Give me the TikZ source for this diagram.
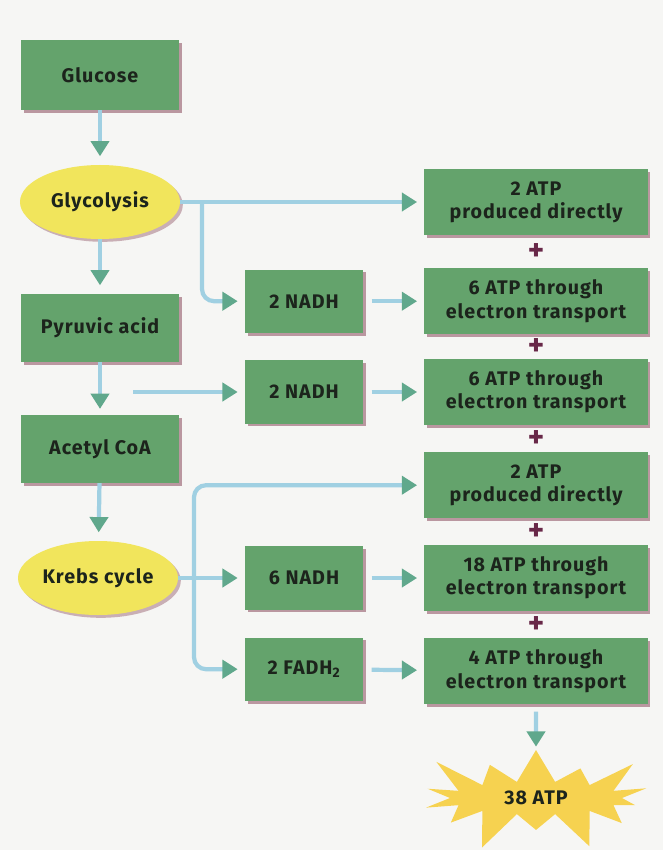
\documentclass[tikz,border=0pt]{standalone}
\usepackage{fontspec}
\setmainfont{Fira Sans}
\usepackage{xcolor}
\usetikzlibrary{arrows.meta,calc,shapes.geometric,shapes.symbols,shadows}
\definecolor{boxgreen}{RGB}{100,163,108}
\definecolor{cellyellow}{RGB}{241,229,92}
\definecolor{burstgold}{RGB}{246,210,80}
\definecolor{pipeblue}{RGB}{160,208,226}
\definecolor{tipteal}{RGB}{96,168,140}
\definecolor{inkdark}{RGB}{28,36,28}
\definecolor{plusplum}{RGB}{104,40,72}
\definecolor{shadowrose}{RGB}{172,128,140}
\definecolor{pagebg}{RGB}{246,246,244}
\newcommand{\labelfont}{\fontsize{14}{16.5}\selectfont\bfseries\addfontfeatures{LetterSpace=5}}

\begin{document}
\begin{tikzpicture}[
  stepbox/.style={rectangle,fill=boxgreen,text=inkdark,align=center,
    font=\labelfont,minimum height=1.65cm,
    drop shadow={shadow xshift=2pt,shadow yshift=-2pt,fill=shadowrose,opacity=0.8}},
  cell/.style={ellipse,fill=cellyellow,text=inkdark,minimum width=4cm,minimum height=1.85cm,
    inner sep=0pt,font=\labelfont,
    drop shadow={shadow xshift=2pt,shadow yshift=-2pt,fill=shadowrose,opacity=0.6}},
  plus/.style={text=plusplum,font=\fontsize{22}{22}\selectfont\bfseries,inner sep=0pt},
  burst/.style={starburst,starburst points=14,starburst point height=1.1cm,
    fill=burstgold,text=inkdark,minimum width=6.5cm,minimum height=2.4cm,
    font=\labelfont},
  flow/.style={line width=3pt,draw=pipeblue,shorten >=3pt,
    -{Triangle[length=0.38cm,width=0.45cm,color=tipteal]}}
]
\fill[pagebg] (0,0) rectangle (16.575,-21.25);
\useasboundingbox (0,0) rectangle (16.575,-21.25);

% left column
\node[stepbox,minimum width=3.95cm,minimum height=1.75cm] (glu) at (2.5,-1.88) {Glucose};
\node[cell] (gly) at (2.5,-5.05) {Glycolysis};
\node[stepbox,minimum width=3.95cm,minimum height=1.7cm] (pyr) at (2.5,-8.2) {Pyruvic acid};
\node[stepbox,minimum width=3.95cm,minimum height=1.7cm] (ace) at (2.5,-11.22) {Acetyl CoA};
\node[cell] (krebs) at (2.45,-14.45) {Krebs cycle};

% middle column
\node[stepbox,minimum width=2.95cm,minimum height=1.58cm] (m1) at (7.6,-7.53) {2 NADH};
\node[stepbox,minimum width=2.95cm,minimum height=1.58cm] (m2) at (7.6,-9.8) {2 NADH};
\node[stepbox,minimum width=2.95cm,minimum height=1.58cm] (m3) at (7.6,-14.45) {6 NADH};
\node[stepbox,minimum width=2.95cm,minimum height=1.58cm] (m4) at (7.6,-16.73) {2 FADH\textsubscript{2}};

% right column
\node[stepbox,minimum width=5.58cm] (r1) at (13.4,-5.05) {2 ATP\\produced directly};
\node[stepbox,minimum width=5.58cm] (r2) at (13.4,-7.53) {6 ATP through\\electron transport};
\node[stepbox,minimum width=5.58cm] (r3) at (13.4,-9.8) {6 ATP through\\electron transport};
\node[stepbox,minimum width=5.58cm] (r4) at (13.4,-12.13) {2 ATP\\produced directly};
\node[stepbox,minimum width=5.58cm] (r5) at (13.4,-14.45) {18 ATP through\\electron transport};
\node[stepbox,minimum width=5.58cm] (r6) at (13.4,-16.78) {4 ATP through\\electron transport};

\node[plus] at ($(r1.south)!0.5!(r2.north)$) {+};
\node[plus] at ($(r2.south)!0.5!(r3.north)$) {+};
\node[plus] at ($(r3.south)!0.5!(r4.north)$) {+};
\node[plus] at ($(r4.south)!0.5!(r5.north)$) {+};
\node[plus] at ($(r5.south)!0.5!(r6.north)$) {+};

\node[burst] (atp) at (13.4,-19.95) {38 ATP};

% split points
\coordinate (glysplit) at (5.05,-5.05);
\coordinate (pyrsplit) at (3.33,-9.8);
\coordinate (krebsplit) at (4.85,-14.45);

% connectors
\draw[flow,shorten >=6pt] (glu) -- (gly);
\draw[flow,shorten >=6pt] (gly) -- (pyr);
\draw[flow,shorten >=4pt] (pyr) -- (ace);
\draw[flow,shorten >=6pt] (ace) -- (krebs);

\draw[flow,shorten >=5pt] (gly) -- (r1);
\draw[flow,shorten >=5pt,rounded corners=0.3cm] (glysplit) |- (m1);
\draw[flow,shorten >=5pt] (pyrsplit) -- (m2);
\draw[flow,shorten >=5pt] (krebs) -- (m3);
\draw[flow,shorten >=5pt,rounded corners=0.3cm] (krebsplit) |- (r4);
\draw[flow,shorten >=5pt,rounded corners=0.3cm] (krebsplit) |- (m4);

\draw[flow,shorten <=6pt,shorten >=5pt] (m1) -- (r2);
\draw[flow,shorten <=6pt,shorten >=5pt] (m2) -- (r3);
\draw[flow,shorten <=6pt,shorten >=5pt] (m3) -- (r5);
\draw[flow,shorten <=6pt,shorten >=5pt] (m4) -- (r6);

\draw[flow,shorten <=5pt,shorten >=2pt] (r6) -- (atp);
\end{tikzpicture}
\end{document}
